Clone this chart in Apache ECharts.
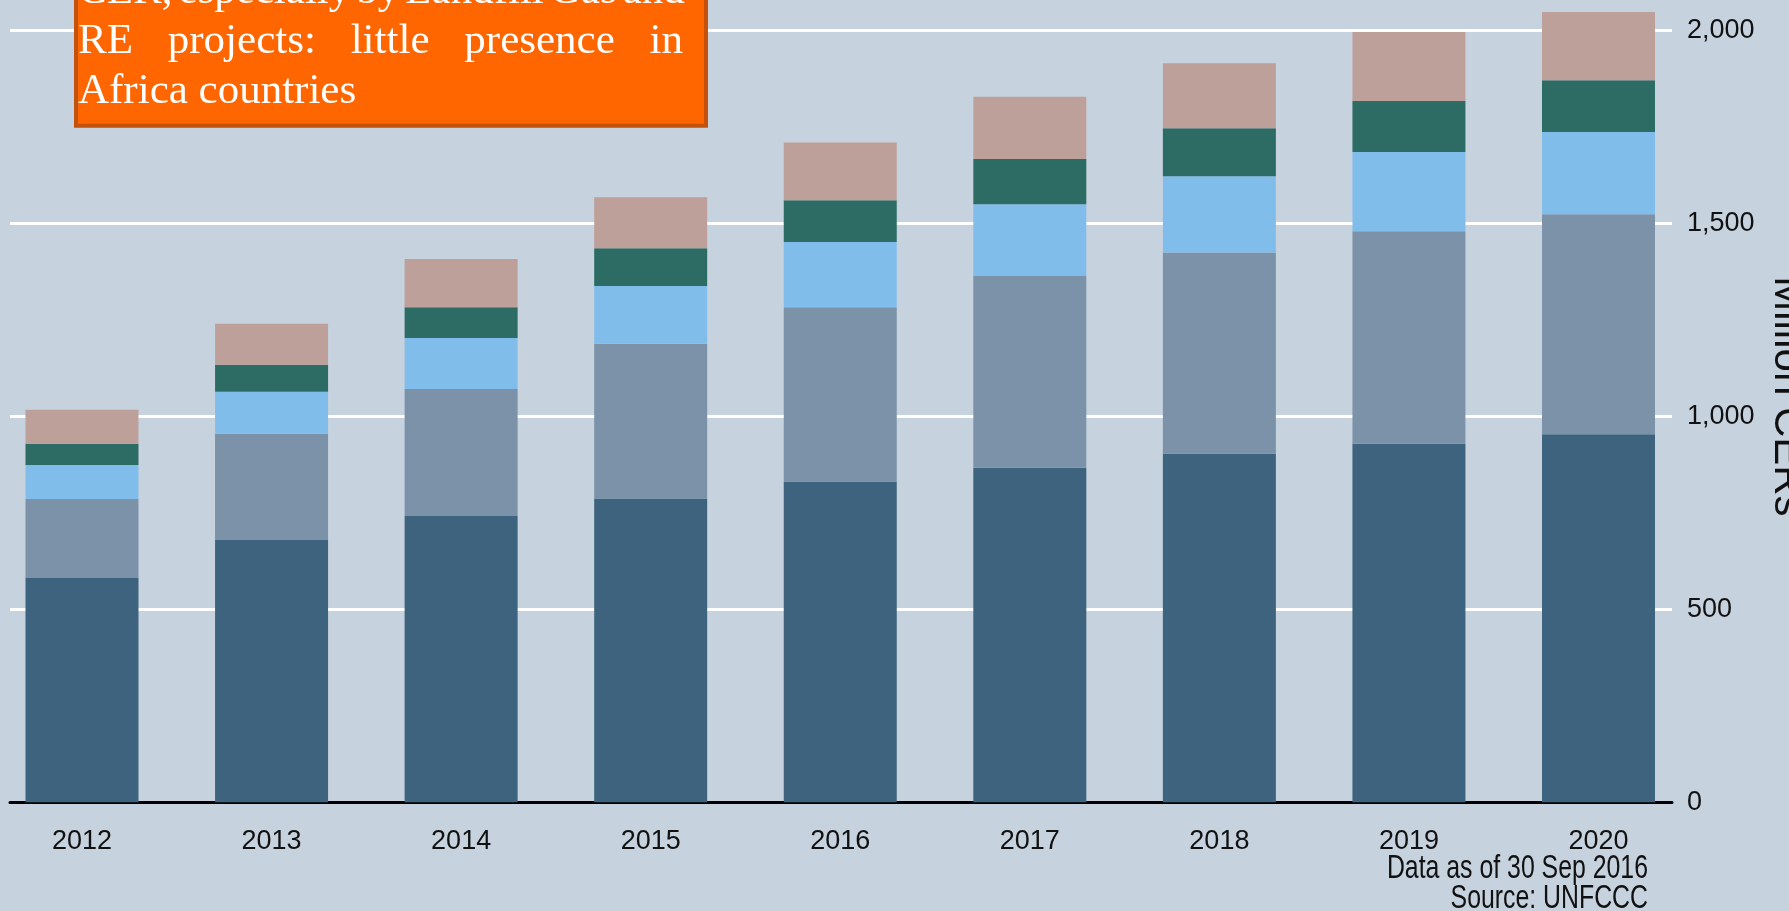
<!DOCTYPE html>
<html><head><meta charset="utf-8">
<script src="https://cdn.jsdelivr.net/npm/echarts@6/dist/echarts.min.js"></script>
<style>html,body{margin:0;padding:0;background:#c6d2de;overflow:hidden}#c{width:1789px;height:911px}</style>
</head><body><div id="c"></div>
<script>
// ---- data ----
const categories = ['2012', '2013', '2014', '2015', '2016', '2017', '2018', '2019', '2020'];
const seriesNames = ['Segment 1', 'Segment 2', 'Segment 3', 'Segment 4', 'Segment 5'];
const segment1 = [581, 680, 742, 787, 831, 867, 903, 929, 954];
const segment2 = [205, 275, 329, 401, 452, 497, 522, 551, 570];
const segment3 = [88, 109, 132, 150, 169, 186, 197, 205, 213];
const segment4 = [55, 70, 80, 98, 108, 117, 125, 132, 134];
const segment5 = [88, 106, 125, 132, 150, 161, 168, 179, 177];
const yTicks = [0, 500, 1000, 1500, 2000];
const yAxisTitle = 'Million CERs';
const boxLines = ['CER, especially by Landfill Gas and', 'RE projects: little presence in', 'Africa countries'];
const noteLines = ['Data as of 30 Sep 2016', 'Source: UNFCCC'];

// ---- styles ----
const colors = ['#3d637e', '#7b92a9', '#81bdea', '#2d6c65', '#bea09a'];
const tickFont = '"Liberation Sans", Arial, sans-serif';
const allSeries = [segment1, segment2, segment3, segment4, segment5];

const GTOP = 30.5, GBOT = 802.3;
const chart = echarts.init(document.getElementById('c'));

// justified text for the orange call-out
const ctx = document.createElement('canvas').getContext('2d');
const boxFont = '43px "Liberation Serif", "Times New Roman", serif';
ctx.font = boxFont;
const textLeft = 78, textRight = 683;
const baselines = [2, 52, 102];
const boxElements = [{
  type: 'rect', shape: {x: 76, y: -20, width: 630, height: 145.7},
  style: {fill: '#ff6600', stroke: '#c4520c', lineWidth: 4}, z: 10
}];
boxLines.forEach((line, i) => {
  const words = line.split(' ');
  const last = i === boxLines.length - 1;
  const widths = words.map(w => ctx.measureText(w).width);
  const total = widths.reduce((a, b) => a + b, 0);
  const gap = last ? ctx.measureText(' ').width : Math.max(6, (textRight - textLeft - total) / (words.length - 1));
  let x = textLeft;
  words.forEach((w, j) => {
    boxElements.push({
      type: 'text', x: x, y: baselines[i] - 10.5, z: 11,
      style: {text: w, font: boxFont, fill: '#ffffff', align: 'left', verticalAlign: 'middle'}
    });
    x += widths[j] + gap;
  });
});
const noteElements = noteLines.map((t, i) => ({
  type: 'text', x: 1648, y: [868.6, 899.2][i], scaleX: 0.753, z: 11,
  style: {text: t, font: '33px "Liberation Sans", Arial, sans-serif', fill: '#111', align: 'right', verticalAlign: 'middle'}
}));

const tickLabelStyle = {fontSize: 27, fontFamily: tickFont, color: '#111'};

chart.setOption({
  backgroundColor: '#c6d2de',
  animation: false,
  grid: [
    {left: 82, width: 1516.5, top: GTOP, height: GBOT - GTOP, outerBoundsMode: 'none', containLabel: false},
    {left: 10, width: 1662, top: GTOP, height: GBOT - GTOP, outerBoundsMode: 'none', containLabel: false}
  ],
  xAxis: [
    {gridIndex: 0, type: 'category', data: categories, boundaryGap: false,
      axisLine: {show: false}, axisTick: {show: false}, splitLine: {show: false},
      axisLabel: Object.assign({margin: 26, interval: 0}, tickLabelStyle)},
    {gridIndex: 1, type: 'category', data: categories, axisLine: {show: true, lineStyle: {color: '#000', width: 3}},
      axisTick: {show: false}, axisLabel: {show: false}, splitLine: {show: false}}
  ],
  yAxis: [
    {gridIndex: 0, type: 'value', min: yTicks[0], max: yTicks[yTicks.length - 1], show: false, splitLine: {show: false}},
    {gridIndex: 1, type: 'value', position: 'right', min: yTicks[0], max: yTicks[yTicks.length - 1],
      interval: yTicks[1] - yTicks[0],
      axisLine: {show: false}, axisTick: {show: false},
      splitLine: {show: true, lineStyle: {color: '#ffffff', width: 3}},
      axisLabel: Object.assign({margin: 15, padding: [0, 0, 7, 0],
        formatter: v => v.toLocaleString('en-US')}, tickLabelStyle),
      name: yAxisTitle, nameLocation: 'middle', nameRotate: -90, nameGap: 106,
      nameTextStyle: {fontSize: 42, fontFamily: '"Liberation Sans", Arial, sans-serif', color: '#111',
        align: 'center', verticalAlign: 'middle', padding: [0, 40, 0, 0]}}
  ],
  series: allSeries.map((d, i) => ({
    name: seriesNames[i], type: 'bar', stack: 'total', xAxisIndex: 0, yAxisIndex: 0,
    data: d, barWidth: 113, clip: false, itemStyle: {color: colors[i]}, z: 3
  })),
  graphic: boxElements.concat(noteElements)
});
</script>
</body></html>
